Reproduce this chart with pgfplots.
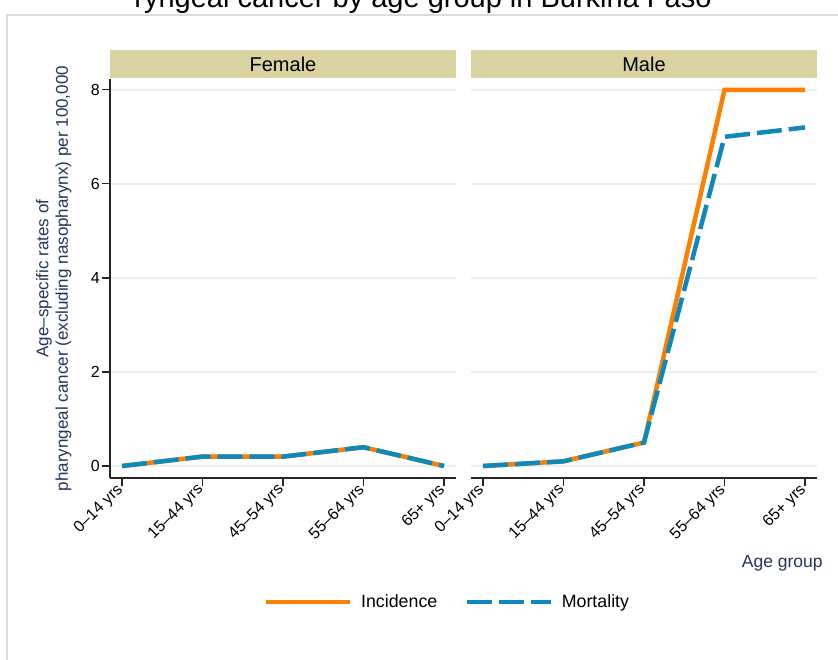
\documentclass[border=0pt]{standalone}
\usepackage{pgfplots}
\pgfplotsset{compat=1.18}
\usepackage{fontspec}
\setmainfont{Liberation Sans}
\definecolor{inc}{RGB}{255,127,0}
\definecolor{mort}{RGB}{14,137,187}
\definecolor{stripc}{RGB}{216,211,160}
\definecolor{gridc}{RGB}{233,239,241}
\definecolor{navy}{RGB}{38,52,94}
\definecolor{boxc}{RGB}{220,220,220}
\pgfplotsset{panel/.style={
  scale only axis, width=346pt, height=399pt,
  xmin=-0.149, xmax=4.149, ymin=-0.255, ymax=8.23,
  axis x line*=bottom, axis y line*=left,
  axis line style={black!85, line width=1.3pt},
  xtick={0,1,2,3,4},
  xticklabels={0–14 yrs,15–44 yrs,45–54 yrs,55–64 yrs,65+ yrs},
  ytick={0,2,4,6,8},
  tick align=outside, major tick length=8pt,
  tick style={black!85, line width=1.2pt},
  ymajorgrids, grid style={gridc, line width=1.8pt},
  tick label style={font=\fontsize{16}{18}\selectfont},
  /pgf/number format/assume math mode=true,
  x tick label style={rotate=45, anchor=east, inner sep=2pt},
  y tick label style={inner sep=2pt},
}}
\begin{document}
\begin{tikzpicture}[x=1pt,y=1pt]
\useasboundingbox (0,0) rectangle (838,-659);
\clip (0,0) rectangle (838,-659);
\fill[white] (0,0) rectangle (838,-659);
\draw[boxc, line width=2pt] (7,-15) rectangle (900,-720);
\node[anchor=base, font=\fontsize{29}{33}\selectfont] at (423,-7) {ryngeal cancer by age group in Burkina Faso};
\fill[stripc] (110,-50) rectangle (456,-78);
\node[font=\fontsize{20}{22}\selectfont] at (283,-64) {Female};
\fill[stripc] (471,-50) rectangle (817,-78);
\node[font=\fontsize{20}{22}\selectfont] at (644,-64) {Male};
\begin{axis}[panel, at={(110pt,-79pt)}, anchor=north west,
  ylabel={Age–specific rates of\\pharyngeal cancer (excluding nasopharynx) per 100,000},
  ylabel style={align=center, font=\fontsize{17}{19.5}\selectfont, text=navy,
    at={(axis description cs:-0.101,0.5)}, anchor=south},
  legend columns=2,
  legend style={at={(axis description cs:0.975,-0.311)}, anchor=center, draw=none, fill=none,
    font=\fontsize{17.8}{20}\selectfont,
    /tikz/every even column/.append style={column sep=25pt},
    /tikz/every odd column/.append style={column sep=7pt}},
  legend image code/.code={\draw[#1] (0pt,0pt) -- (84pt,0pt);},
]
\addplot[inc, line width=4.5pt] coordinates {(0,0) (1,0.2) (2,0.2) (3,0.4) (4,0)};
\addlegendentry{Incidence}
\addplot[mort, line width=4.5pt, dash pattern=on 25pt off 7pt] coordinates {(0,0) (1,0.2) (2,0.2) (3,0.4) (4,0)};
\addlegendentry{Mortality}
\end{axis}
\begin{axis}[panel, at={(471pt,-79pt)}, anchor=north west,
  y axis line style={draw=none}, major y tick style={draw=none}, yticklabels={},
  xlabel={Age group},
  xlabel style={at={(axis description cs:1.017,-0.213)}, anchor=east, inner sep=0pt,
    font=\fontsize{17.5}{20}\selectfont, text=navy},
]
\addplot[inc, line width=4.5pt] coordinates {(0,0) (1,0.1) (2,0.5) (3,8) (4,8)};
\addplot[mort, line width=4.5pt, dash pattern=on 25pt off 7pt] coordinates {(0,0) (1,0.1) (2,0.5) (3,7.0) (4,7.2)};
\end{axis}
\end{tikzpicture}
\end{document}
